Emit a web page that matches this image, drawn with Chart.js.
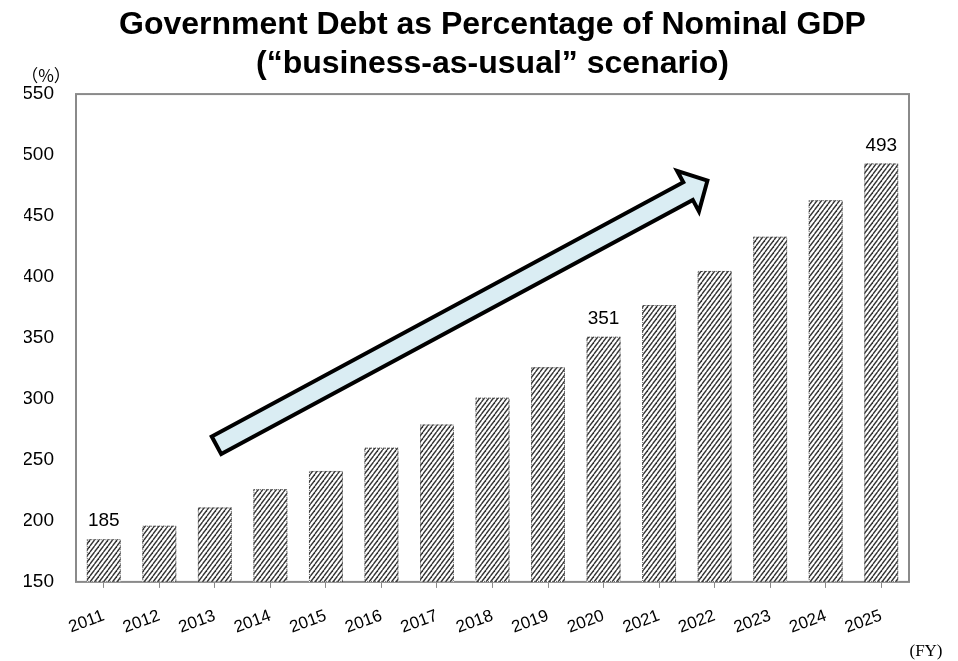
<!DOCTYPE html>
<html>
<head>
<meta charset="utf-8">
<script src="https://cdn.jsdelivr.net/npm/chart.js@4/dist/chart.umd.min.js"></script>
<style>
  html, body { margin: 0; padding: 0; background: #fff; }
  #wrap { width: 958px; height: 661px; }
</style>
</head>
<body>
<div id="wrap"><canvas id="debtChart"></canvas></div>
<script>
// data
const years = ["2011","2012","2013","2014","2015","2016","2017","2018","2019","2020","2021","2022","2023","2024","2025"];
const debtRatio = [185, 196, 211, 226, 241, 260, 279, 301, 326, 351, 377, 405, 433, 463, 493];
const labeledYears = ["2011", "2020", "2025"];
const yTicks = [150, 200, 250, 300, 350, 400, 450, 500, 550];
const titleLines = ["Government Debt as Percentage of Nominal GDP", "(\u201cbusiness-as-usual\u201d scenario)"];

// trend arrow, given in chart units: [category index, value]
const arrowFrom = [2.03, 262];
const arrowTo = [10.87, 479];

// diagonal hatch for the bars
function makeHatch() {
  const w = 9, h = 6, step = 4.5;
  const c = document.createElement("canvas");
  c.width = w; c.height = h;
  const g = c.getContext("2d");
  g.fillStyle = "#fff";
  g.fillRect(0, 0, w, h);
  g.strokeStyle = "#333";
  g.lineWidth = 1.4;
  for (let x0 = -w; x0 <= w; x0 += step) {
    g.beginPath();
    g.moveTo(x0, h);
    g.lineTo(x0 + step, 0);
    g.stroke();
  }
  return g.createPattern(c, "repeat");
}

const frame = {
  id: "frame",
  beforeDatasetsDraw(chart) {
    const { ctx, chartArea: a } = chart;
    ctx.save();
    ctx.strokeStyle = "#8a8a8a";
    ctx.lineWidth = 2;
    ctx.strokeRect(a.left, a.top, a.right - a.left, a.bottom - a.top);
    ctx.restore();
  }
};

const extras = {
  id: "extras",
  afterDatasetsDraw(chart) {
    const { ctx } = chart;
    const a = chart.chartArea;
    const meta = chart.getDatasetMeta(0);
    ctx.save();
    // dotted bar outlines
    ctx.strokeStyle = "#555";
    ctx.lineWidth = 1;
    ctx.setLineDash([1, 1]);
    meta.data.forEach(bar => {
      const w = bar.width;
      const base = Math.min(bar.base, a.bottom);
      ctx.strokeRect(bar.x - w / 2 + 0.5, bar.y + 0.5, w - 1, base - bar.y - 1);
    });
    ctx.setLineDash([]);

    // value labels
    ctx.fillStyle = "#000";
    ctx.font = "19px 'Liberation Sans', Arial, sans-serif";
    ctx.textAlign = "center";
    ctx.textBaseline = "alphabetic";
    years.forEach((yr, i) => {
      if (labeledYears.includes(yr)) {
        const bar = meta.data[i];
        ctx.fillText(String(debtRatio[i]), bar.x, bar.y - 13);
      }
    });

    // trend arrow
    const xs = chart.scales.x, ys = chart.scales.y;
    const x1 = xs.getPixelForValue(arrowFrom[0]), y1 = ys.getPixelForValue(arrowFrom[1]);
    const x2 = xs.getPixelForValue(arrowTo[0]), y2 = ys.getPixelForValue(arrowTo[1]);
    const len = Math.hypot(x2 - x1, y2 - y1);
    const ux = (x2 - x1) / len, uy = (y2 - y1) / len;
    const nx = -uy, ny = ux;
    const sw = 10, hw = 23, hl = 22;
    const bx = x2 - ux * hl, by = y2 - uy * hl;
    const pts = [
      [x1 + nx * sw, y1 + ny * sw],
      [bx + nx * sw, by + ny * sw],
      [bx + nx * hw, by + ny * hw],
      [x2, y2],
      [bx - nx * hw, by - ny * hw],
      [bx - nx * sw, by - ny * sw],
      [x1 - nx * sw, y1 - ny * sw]
    ];
    ctx.beginPath();
    pts.forEach((p, i) => i ? ctx.lineTo(p[0], p[1]) : ctx.moveTo(p[0], p[1]));
    ctx.closePath();
    ctx.fillStyle = "#daedf3";
    ctx.fill();
    ctx.lineWidth = 4;
    ctx.lineJoin = "miter";
    ctx.strokeStyle = "#000";
    ctx.stroke();

    // unit labels
    ctx.fillStyle = "#000";
    ctx.font = "17px 'Noto Sans CJK JP', sans-serif";
    ctx.textAlign = "center";
    ctx.textBaseline = "middle";
    ctx.fillText("\uff08%\uff09", 46, a.top - 19);
    ctx.font = "17px 'Liberation Serif', 'Times New Roman', serif";
    ctx.fillText("(FY)", 926, 652);
    ctx.restore();
  }
};

new Chart(document.getElementById("debtChart"), {
  type: "bar",
  data: {
    labels: years,
    datasets: [{
      data: debtRatio,
      backgroundColor: makeHatch(),
      borderWidth: 0,
      categoryPercentage: 1,
      barPercentage: 0.61
    }]
  },
  options: {
    responsive: true,
    maintainAspectRatio: false,
    animation: false,
    layout: { padding: { left: 24, right: 49, top: 0, bottom: 5 } },
    plugins: {
      legend: { display: false },
      tooltip: { enabled: false },
      title: {
        display: true,
        fullSize: false,
        text: titleLines,
        color: "#000",
        font: { family: "'Liberation Sans', Arial, sans-serif", size: 32, weight: "bold", lineHeight: 1.22 },
        padding: { top: 6, bottom: 10 }
      }
    },
    scales: {
      x: {
        border: { display: false },
        grid: { display: true, drawOnChartArea: false, drawTicks: true, tickLength: 6, color: "#8a8a8a", offset: false },
        afterFit(scale) { scale.paddingLeft = 0; scale.paddingRight = 0; },
        ticks: {
          color: "#000",
          font: { family: "'Liberation Sans', Arial, sans-serif", size: 17 },
          minRotation: 20,
          maxRotation: 20,
          autoSkip: false,
          padding: 18
        }
      },
      y: {
        min: 150,
        max: 550,
        border: { display: false },
        grid: { display: false, drawTicks: false },
        afterBuildTicks(axis) { axis.ticks = yTicks.map(v => ({ value: v })); },
        afterFit(scale) { scale.width = 52; },
        ticks: {
          color: "#000",
          font: { family: "'Liberation Sans', Arial, sans-serif", size: 19 },
          padding: 22
        }
      }
    }
  },
  plugins: [frame, extras]
});
</script>
</body>
</html>
